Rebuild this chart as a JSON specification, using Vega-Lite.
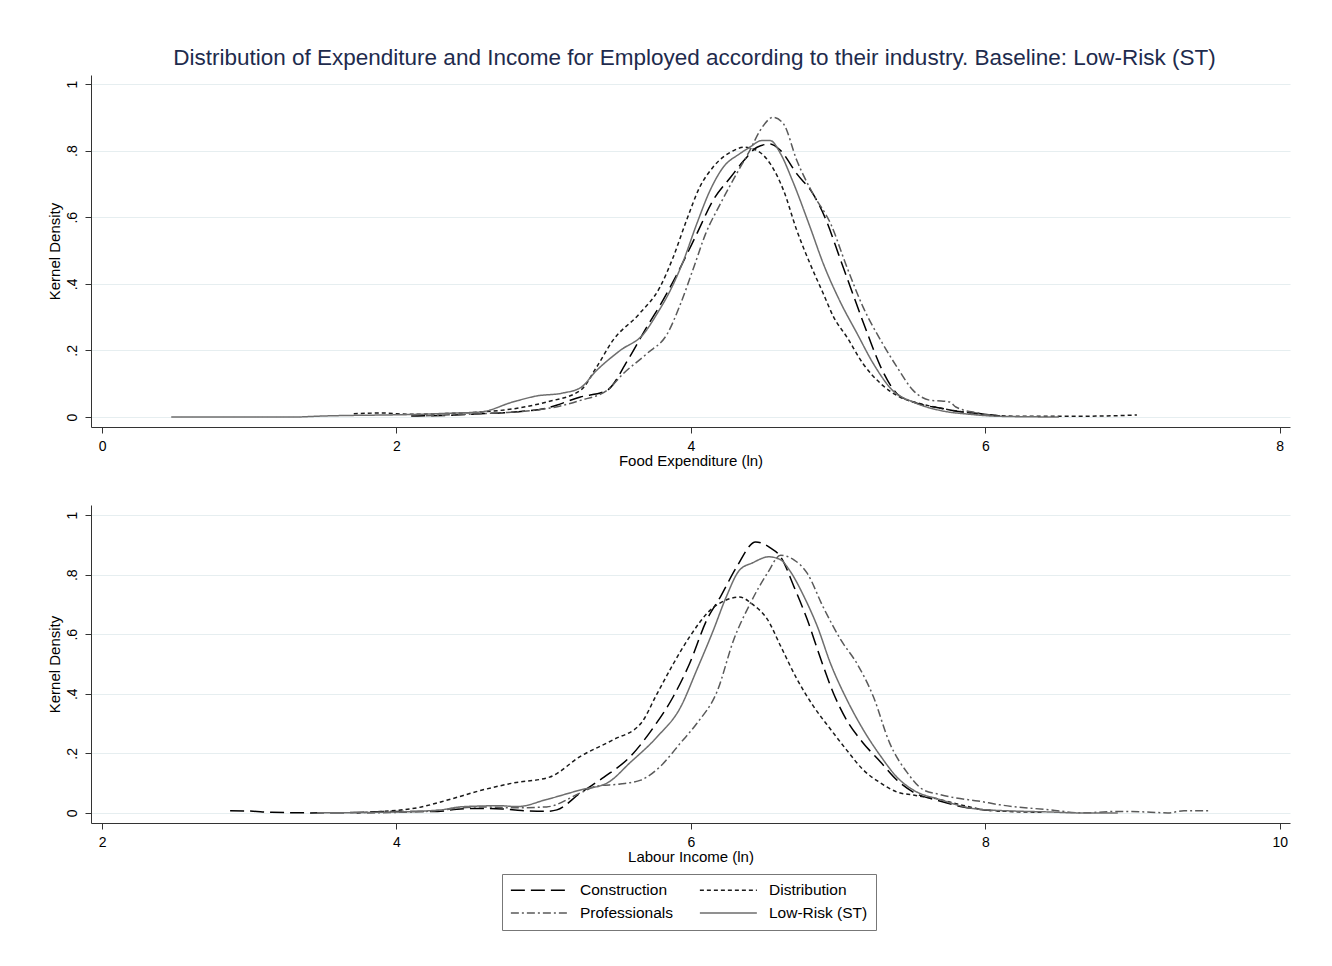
{
 "$schema": "https://vega.github.io/schema/vega-lite/v6.json",
 "padding": {"left": 46, "top": 46, "right": 5, "bottom": 5},
 "background": "white",
 "title": {"text": "Distribution of Expenditure and Income for Employed according to their industry. Baseline: Low-Risk (ST)", "font": "Liberation Sans", "fontSize": 22.5, "fontWeight": "normal", "color": "#1e2b4d", "anchor": "middle", "frame": "group", "offset": 6, "dx": 4},
 "datasets": {
  "top": [
   {"series":"Construction","x":2.1,"y":0.003},{"series":"Construction","x":2.4,"y":0.006},{"series":"Construction","x":2.57,"y":0.01},{"series":"Construction","x":2.8,"y":0.015},{"series":"Construction","x":3.02,"y":0.027},{"series":"Construction","x":3.25,"y":0.06},{"series":"Construction","x":3.43,"y":0.08},{"series":"Construction","x":3.57,"y":0.17},{"series":"Construction","x":3.7,"y":0.27},{"series":"Construction","x":3.81,"y":0.35},{"series":"Construction","x":3.93,"y":0.45},{"series":"Construction","x":4.04,"y":0.55},{"series":"Construction","x":4.15,"y":0.65},{"series":"Construction","x":4.27,"y":0.72},{"series":"Construction","x":4.36,"y":0.77},{"series":"Construction","x":4.45,"y":0.81},{"series":"Construction","x":4.54,"y":0.82},{"series":"Construction","x":4.61,"y":0.8},{"series":"Construction","x":4.72,"y":0.73},{"series":"Construction","x":4.83,"y":0.67},{"series":"Construction","x":4.92,"y":0.59},{"series":"Construction","x":5.01,"y":0.48},{"series":"Construction","x":5.1,"y":0.37},{"series":"Construction","x":5.2,"y":0.25},{"series":"Construction","x":5.29,"y":0.15},{"series":"Construction","x":5.4,"y":0.07},{"series":"Construction","x":5.51,"y":0.045},{"series":"Construction","x":5.69,"y":0.027},{"series":"Construction","x":5.85,"y":0.015},{"series":"Construction","x":6.05,"y":0.006},{"series":"Construction","x":6.1,"y":0.003},
   {"series":"Distribution","x":1.71,"y":0.01},{"series":"Distribution","x":1.9,"y":0.012},{"series":"Distribution","x":2.1,"y":0.008},{"series":"Distribution","x":2.3,"y":0.01},{"series":"Distribution","x":2.57,"y":0.015},{"series":"Distribution","x":2.8,"y":0.025},{"series":"Distribution","x":3.02,"y":0.045},{"series":"Distribution","x":3.25,"y":0.08},{"series":"Distribution","x":3.36,"y":0.15},{"series":"Distribution","x":3.47,"y":0.23},{"series":"Distribution","x":3.65,"y":0.31},{"series":"Distribution","x":3.79,"y":0.39},{"series":"Distribution","x":3.88,"y":0.48},{"series":"Distribution","x":3.97,"y":0.59},{"series":"Distribution","x":4.06,"y":0.69},{"series":"Distribution","x":4.15,"y":0.75},{"series":"Distribution","x":4.29,"y":0.8},{"series":"Distribution","x":4.36,"y":0.81},{"series":"Distribution","x":4.45,"y":0.8},{"series":"Distribution","x":4.54,"y":0.76},{"series":"Distribution","x":4.63,"y":0.68},{"series":"Distribution","x":4.72,"y":0.56},{"series":"Distribution","x":4.81,"y":0.46},{"series":"Distribution","x":4.9,"y":0.37},{"series":"Distribution","x":4.97,"y":0.3},{"series":"Distribution","x":5.06,"y":0.24},{"series":"Distribution","x":5.17,"y":0.16},{"series":"Distribution","x":5.29,"y":0.1},{"series":"Distribution","x":5.42,"y":0.06},{"series":"Distribution","x":5.56,"y":0.04},{"series":"Distribution","x":5.69,"y":0.027},{"series":"Distribution","x":5.85,"y":0.015},{"series":"Distribution","x":6.05,"y":0.005},{"series":"Distribution","x":6.3,"y":0.002},{"series":"Distribution","x":6.5,"y":0.002},{"series":"Distribution","x":6.8,"y":0.003},{"series":"Distribution","x":7.03,"y":0.006},
   {"series":"Professionals","x":2.2,"y":0.004},{"series":"Professionals","x":2.57,"y":0.01},{"series":"Professionals","x":2.8,"y":0.015},{"series":"Professionals","x":3.02,"y":0.025},{"series":"Professionals","x":3.25,"y":0.05},{"series":"Professionals","x":3.43,"y":0.08},{"series":"Professionals","x":3.54,"y":0.13},{"series":"Professionals","x":3.7,"y":0.19},{"series":"Professionals","x":3.84,"y":0.25},{"series":"Professionals","x":3.93,"y":0.34},{"series":"Professionals","x":4.02,"y":0.45},{"series":"Professionals","x":4.1,"y":0.55},{"series":"Professionals","x":4.2,"y":0.64},{"series":"Professionals","x":4.31,"y":0.73},{"series":"Professionals","x":4.4,"y":0.8},{"series":"Professionals","x":4.47,"y":0.86},{"series":"Professionals","x":4.56,"y":0.9},{"series":"Professionals","x":4.63,"y":0.88},{"series":"Professionals","x":4.72,"y":0.77},{"series":"Professionals","x":4.83,"y":0.67},{"series":"Professionals","x":4.95,"y":0.58},{"series":"Professionals","x":5.06,"y":0.45},{"series":"Professionals","x":5.17,"y":0.33},{"series":"Professionals","x":5.29,"y":0.23},{"series":"Professionals","x":5.4,"y":0.15},{"series":"Professionals","x":5.51,"y":0.08},{"series":"Professionals","x":5.63,"y":0.05},{"series":"Professionals","x":5.7,"y":0.048},{"series":"Professionals","x":5.76,"y":0.045},{"series":"Professionals","x":5.8,"y":0.03},{"series":"Professionals","x":5.95,"y":0.012},{"series":"Professionals","x":6.05,"y":0.005},
   {"series":"Low-Risk (ST)","x":0.47,"y":0},{"series":"Low-Risk (ST)","x":1.3,"y":0},{"series":"Low-Risk (ST)","x":1.5,"y":0.003},{"series":"Low-Risk (ST)","x":2.14,"y":0.008},{"series":"Low-Risk (ST)","x":2.4,"y":0.012},{"series":"Low-Risk (ST)","x":2.57,"y":0.015},{"series":"Low-Risk (ST)","x":2.79,"y":0.045},{"series":"Low-Risk (ST)","x":2.95,"y":0.063},{"series":"Low-Risk (ST)","x":3.13,"y":0.072},{"series":"Low-Risk (ST)","x":3.25,"y":0.088},{"series":"Low-Risk (ST)","x":3.36,"y":0.14},{"series":"Low-Risk (ST)","x":3.52,"y":0.2},{"series":"Low-Risk (ST)","x":3.68,"y":0.25},{"series":"Low-Risk (ST)","x":3.77,"y":0.31},{"series":"Low-Risk (ST)","x":3.86,"y":0.38},{"series":"Low-Risk (ST)","x":3.95,"y":0.47},{"series":"Low-Risk (ST)","x":4.04,"y":0.58},{"series":"Low-Risk (ST)","x":4.13,"y":0.68},{"series":"Low-Risk (ST)","x":4.22,"y":0.75},{"series":"Low-Risk (ST)","x":4.33,"y":0.79},{"series":"Low-Risk (ST)","x":4.4,"y":0.81},{"series":"Low-Risk (ST)","x":4.48,"y":0.83},{"series":"Low-Risk (ST)","x":4.54,"y":0.83},{"series":"Low-Risk (ST)","x":4.61,"y":0.79},{"series":"Low-Risk (ST)","x":4.69,"y":0.71},{"series":"Low-Risk (ST)","x":4.81,"y":0.57},{"series":"Low-Risk (ST)","x":4.9,"y":0.46},{"series":"Low-Risk (ST)","x":5.01,"y":0.35},{"series":"Low-Risk (ST)","x":5.13,"y":0.25},{"series":"Low-Risk (ST)","x":5.24,"y":0.16},{"series":"Low-Risk (ST)","x":5.37,"y":0.08},{"series":"Low-Risk (ST)","x":5.51,"y":0.045},{"series":"Low-Risk (ST)","x":5.69,"y":0.02},{"series":"Low-Risk (ST)","x":5.9,"y":0.008},{"series":"Low-Risk (ST)","x":6.1,"y":0.002},{"series":"Low-Risk (ST)","x":6.5,"y":0}
  ],
  "bottom": [
   {"series":"Construction","x":2.87,"y":0.007},{"series":"Construction","x":3.0,"y":0.006},{"series":"Construction","x":3.15,"y":0.002},{"series":"Construction","x":3.4,"y":0},{"series":"Construction","x":3.68,"y":0.001},{"series":"Construction","x":4.0,"y":0.005},{"series":"Construction","x":4.28,"y":0.005},{"series":"Construction","x":4.41,"y":0.012},{"series":"Construction","x":4.57,"y":0.015},{"series":"Construction","x":4.72,"y":0.013},{"series":"Construction","x":4.85,"y":0.008},{"series":"Construction","x":5.02,"y":0.005},{"series":"Construction","x":5.09,"y":0.01},{"series":"Construction","x":5.25,"y":0.067},{"series":"Construction","x":5.41,"y":0.12},{"series":"Construction","x":5.59,"y":0.19},{"series":"Construction","x":5.75,"y":0.29},{"series":"Construction","x":5.88,"y":0.39},{"series":"Construction","x":5.99,"y":0.5},{"series":"Construction","x":6.11,"y":0.65},{"series":"Construction","x":6.2,"y":0.725},{"series":"Construction","x":6.31,"y":0.825},{"series":"Construction","x":6.44,"y":0.91},{"series":"Construction","x":6.54,"y":0.89},{"series":"Construction","x":6.61,"y":0.86},{"series":"Construction","x":6.7,"y":0.76},{"series":"Construction","x":6.79,"y":0.65},{"series":"Construction","x":6.88,"y":0.52},{"series":"Construction","x":6.97,"y":0.4},{"series":"Construction","x":7.06,"y":0.31},{"series":"Construction","x":7.17,"y":0.235},{"series":"Construction","x":7.29,"y":0.17},{"series":"Construction","x":7.4,"y":0.11},{"series":"Construction","x":7.51,"y":0.07},{"series":"Construction","x":7.69,"y":0.04},{"series":"Construction","x":7.85,"y":0.02},{"series":"Construction","x":8.0,"y":0.01},{"series":"Construction","x":8.1,"y":0.006},
   {"series":"Distribution","x":3.73,"y":0},{"series":"Distribution","x":3.9,"y":0.005},{"series":"Distribution","x":4.14,"y":0.017},{"series":"Distribution","x":4.36,"y":0.045},{"series":"Distribution","x":4.57,"y":0.075},{"series":"Distribution","x":4.79,"y":0.1},{"series":"Distribution","x":5.04,"y":0.12},{"series":"Distribution","x":5.25,"y":0.19},{"series":"Distribution","x":5.47,"y":0.245},{"series":"Distribution","x":5.66,"y":0.3},{"series":"Distribution","x":5.77,"y":0.4},{"series":"Distribution","x":5.88,"y":0.5},{"series":"Distribution","x":5.99,"y":0.59},{"series":"Distribution","x":6.13,"y":0.68},{"series":"Distribution","x":6.24,"y":0.715},{"series":"Distribution","x":6.33,"y":0.725},{"series":"Distribution","x":6.42,"y":0.7},{"series":"Distribution","x":6.52,"y":0.65},{"series":"Distribution","x":6.61,"y":0.56},{"series":"Distribution","x":6.72,"y":0.45},{"series":"Distribution","x":6.83,"y":0.36},{"series":"Distribution","x":6.95,"y":0.28},{"series":"Distribution","x":7.06,"y":0.21},{"series":"Distribution","x":7.17,"y":0.145},{"series":"Distribution","x":7.29,"y":0.1},{"series":"Distribution","x":7.4,"y":0.07},{"series":"Distribution","x":7.51,"y":0.06},{"series":"Distribution","x":7.69,"y":0.045},{"series":"Distribution","x":7.85,"y":0.025},{"series":"Distribution","x":8.0,"y":0.01},{"series":"Distribution","x":8.2,"y":0.004},{"series":"Distribution","x":8.4,"y":0.002},
   {"series":"Professionals","x":3.8,"y":0},{"series":"Professionals","x":4.2,"y":0.005},{"series":"Professionals","x":4.57,"y":0.02},{"series":"Professionals","x":4.79,"y":0.017},{"series":"Professionals","x":5.02,"y":0.02},{"series":"Professionals","x":5.25,"y":0.067},{"series":"Professionals","x":5.36,"y":0.09},{"series":"Professionals","x":5.52,"y":0.097},{"series":"Professionals","x":5.66,"y":0.11},{"series":"Professionals","x":5.79,"y":0.155},{"series":"Professionals","x":5.93,"y":0.235},{"series":"Professionals","x":6.04,"y":0.3},{"series":"Professionals","x":6.18,"y":0.41},{"series":"Professionals","x":6.29,"y":0.58},{"series":"Professionals","x":6.4,"y":0.7},{"series":"Professionals","x":6.52,"y":0.805},{"series":"Professionals","x":6.61,"y":0.865},{"series":"Professionals","x":6.7,"y":0.85},{"series":"Professionals","x":6.79,"y":0.805},{"series":"Professionals","x":6.9,"y":0.69},{"series":"Professionals","x":7.02,"y":0.58},{"series":"Professionals","x":7.13,"y":0.5},{"series":"Professionals","x":7.24,"y":0.39},{"series":"Professionals","x":7.35,"y":0.235},{"series":"Professionals","x":7.47,"y":0.135},{"series":"Professionals","x":7.58,"y":0.077},{"series":"Professionals","x":7.69,"y":0.062},{"series":"Professionals","x":7.8,"y":0.05},{"series":"Professionals","x":7.95,"y":0.04},{"series":"Professionals","x":8.1,"y":0.027},{"series":"Professionals","x":8.44,"y":0.01},{"series":"Professionals","x":8.66,"y":0.0},{"series":"Professionals","x":8.9,"y":0.005},{"series":"Professionals","x":9.1,"y":0.003},{"series":"Professionals","x":9.24,"y":0},{"series":"Professionals","x":9.35,"y":0.007},{"series":"Professionals","x":9.53,"y":0.007},
   {"series":"Low-Risk (ST)","x":3.46,"y":0},{"series":"Low-Risk (ST)","x":4.0,"y":0.003},{"series":"Low-Risk (ST)","x":4.3,"y":0.01},{"series":"Low-Risk (ST)","x":4.43,"y":0.02},{"series":"Low-Risk (ST)","x":4.57,"y":0.023},{"series":"Low-Risk (ST)","x":4.7,"y":0.024},{"series":"Low-Risk (ST)","x":4.82,"y":0.021},{"series":"Low-Risk (ST)","x":5.02,"y":0.045},{"series":"Low-Risk (ST)","x":5.25,"y":0.077},{"series":"Low-Risk (ST)","x":5.43,"y":0.1},{"series":"Low-Risk (ST)","x":5.59,"y":0.17},{"series":"Low-Risk (ST)","x":5.77,"y":0.255},{"series":"Low-Risk (ST)","x":5.93,"y":0.355},{"series":"Low-Risk (ST)","x":6.04,"y":0.48},{"series":"Low-Risk (ST)","x":6.15,"y":0.61},{"series":"Low-Risk (ST)","x":6.24,"y":0.725},{"series":"Low-Risk (ST)","x":6.33,"y":0.815},{"series":"Low-Risk (ST)","x":6.42,"y":0.84},{"series":"Low-Risk (ST)","x":6.53,"y":0.86},{"series":"Low-Risk (ST)","x":6.61,"y":0.85},{"series":"Low-Risk (ST)","x":6.67,"y":0.815},{"series":"Low-Risk (ST)","x":6.77,"y":0.725},{"series":"Low-Risk (ST)","x":6.86,"y":0.625},{"series":"Low-Risk (ST)","x":6.95,"y":0.5},{"series":"Low-Risk (ST)","x":7.06,"y":0.38},{"series":"Low-Risk (ST)","x":7.17,"y":0.28},{"series":"Low-Risk (ST)","x":7.29,"y":0.19},{"series":"Low-Risk (ST)","x":7.4,"y":0.12},{"series":"Low-Risk (ST)","x":7.51,"y":0.077},{"series":"Low-Risk (ST)","x":7.69,"y":0.045},{"series":"Low-Risk (ST)","x":7.94,"y":0.013},{"series":"Low-Risk (ST)","x":8.2,"y":0.006},{"series":"Low-Risk (ST)","x":8.44,"y":0.003},{"series":"Low-Risk (ST)","x":8.62,"y":0},{"series":"Low-Risk (ST)","x":8.9,"y":0}
  ]
 },
 "config": {
  "font": "Liberation Sans",
  "view": {"stroke": null},
  "axis": {"labelFont": "Liberation Sans", "labelFontSize": 14, "labelColor": "#000", "titleFont": "Liberation Sans", "titleFontSize": 15, "titleFontWeight": "normal", "titleColor": "#000", "domainColor": "#333", "tickColor": "#333", "tickSize": 6, "gridColor": "#e6eef0", "gridWidth": 1.2},
  "axisX": {"grid": false, "labelPadding": 6, "titlePadding": 0},
  "axisY": {"labelAngle": -90, "labelPadding": 6, "titlePadding": 3},
  "legend": {"orient": "none", "legendX": 411, "legendY": 799, "columns": 2, "symbolType": "M-1,0H7", "symbolSize": 203, "symbolStrokeWidth": 1.5, "labelFont": "Liberation Sans", "labelFontSize": 15.5, "labelColor": "#000", "strokeColor": "#777", "padding": 8, "columnPadding": 22, "rowPadding": 6, "labelOffset": 54, "cornerRadius": 0}
 },
 "spacing": 37,
 "vconcat": [
  {
   "width": 1199, "height": 352,
   "data": {"name": "top"},
   "mark": {"type": "line", "strokeWidth": 1.5, "interpolate": "monotone"},
   "encoding": {
    "x": {"field": "x", "type": "quantitative", "scale": {"domain": [-0.075, 8.07], "nice": false, "zero": false}, "axis": {"values": [0, 2, 4, 6, 8], "title": "Food Expenditure (ln)"}},
    "y": {"field": "y", "type": "quantitative", "scale": {"domain": [-0.03, 1.027], "nice": false, "zero": false}, "axis": {"values": [0, 0.2, 0.4, 0.6, 0.8, 1], "labelExpr": "datum.value == 0 ? '0' : datum.value == 1 ? '1' : '.' + round(datum.value * 10)", "title": "Kernel Density", "grid": true}},
    "color": {"field": "series", "type": "nominal", "scale": {"domain": ["Construction", "Professionals", "Distribution", "Low-Risk (ST)"], "range": ["#000000", "#5a5a5a", "#1a1a1a", "#6e6e6e"]}, "legend": {"title": null}},
    "strokeDash": {"field": "series", "type": "nominal", "scale": {"domain": ["Construction", "Professionals", "Distribution", "Low-Risk (ST)"], "range": [[14, 6], [8, 3, 2, 3], [4, 3], [1, 0]]}, "legend": {"title": null}}
   }
  },
  {
   "width": 1199, "height": 318,
   "data": {"name": "bottom"},
   "mark": {"type": "line", "strokeWidth": 1.5, "interpolate": "monotone"},
   "encoding": {
    "x": {"field": "x", "type": "quantitative", "scale": {"domain": [1.925, 10.07], "nice": false, "zero": false}, "axis": {"values": [2, 4, 6, 8, 10], "title": "Labour Income (ln)"}},
    "y": {"field": "y", "type": "quantitative", "scale": {"domain": [-0.034, 1.034], "nice": false, "zero": false}, "axis": {"values": [0, 0.2, 0.4, 0.6, 0.8, 1], "labelExpr": "datum.value == 0 ? '0' : datum.value == 1 ? '1' : '.' + round(datum.value * 10)", "title": "Kernel Density", "grid": true}},
    "color": {"field": "series", "type": "nominal", "scale": {"domain": ["Construction", "Professionals", "Distribution", "Low-Risk (ST)"], "range": ["#000000", "#5a5a5a", "#1a1a1a", "#6e6e6e"]}, "legend": {"title": null}},
    "strokeDash": {"field": "series", "type": "nominal", "scale": {"domain": ["Construction", "Professionals", "Distribution", "Low-Risk (ST)"], "range": [[14, 6], [8, 3, 2, 3], [4, 3], [1, 0]]}, "legend": {"title": null}}
   }
  }
 ]
}
